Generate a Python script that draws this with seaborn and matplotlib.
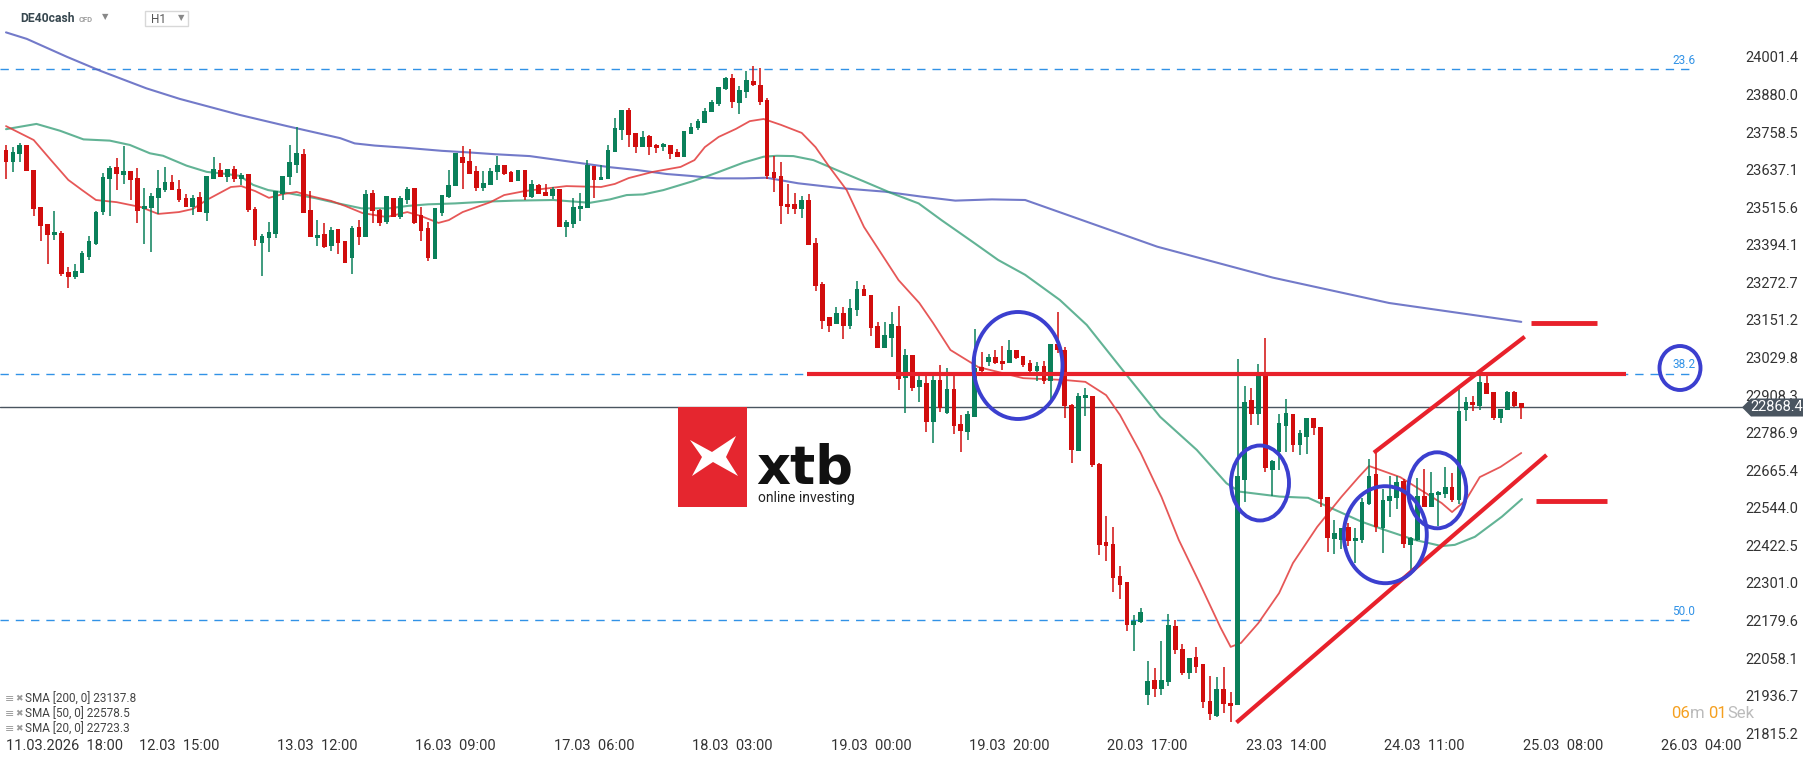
import matplotlib
matplotlib.use("Agg")
import numpy as np
import pandas as pd
import matplotlib.pyplot as plt
from matplotlib import font_manager
from matplotlib.patches import Ellipse, Polygon, Rectangle
from matplotlib.transforms import ScaledTranslation
import seaborn as sns

sns.set_theme(style="white")
plt.rcParams["font.family"] = ["Roboto", "DejaVu Sans"]

installed = {f.name for f in font_manager.fontManager.ttflist}
NARROW = "Liberation Sans Narrow" if "Liberation Sans Narrow" in installed else "Roboto"

# hourly candles, index 0 = 11.03.2026 18:00
first_index = -5
open_px = [
    23701, 23663, 23689, 23717, 23636, 23516, 23461, 23427, 23432, 23306,
    23291, 23304, 23356, 23397, 23500, 23607, 23646, 23621, 23633, 23610,
    23509, 23514, 23546, 23571, 23597, 23575, 23546, 23516, 23549, 23497,
    23607, 23636, 23613, 23639, 23607, 23623, 23510, 23401, 23417, 23430,
    23559, 23615, 23653, 23688, 23507, 23417, 23429, 23391, 23445, 23406,
    23353, 23452, 23420, 23562, 23508, 23469, 23545, 23485, 23539, 23578,
    23492, 23450, 23349, 23498, 23549, 23584, 23678, 23665, 23633, 23578,
    23588, 23630, 23652, 23630, 23601, 23636, 23550, 23587, 23565, 23553,
    23576, 23453, 23462, 23511, 23514, 23649, 23605, 23608, 23694, 23765,
    23830, 23756, 23710, 23746, 23717, 23710, 23717, 23694, 23679, 23753,
    23772, 23788, 23823, 23849, 23898, 23933, 23853, 23888, 23924, 23911,
    23862, 23630, 23617, 23526, 23526, 23510, 23539, 23400, 23267, 23161,
    23138, 23174, 23132, 23183, 23251, 23232, 23132, 23060, 23093, 23132,
    22963, 23038, 22934, 22947, 22821, 22957, 22850, 22928, 22815, 22789,
    22837, 22999, 23015, 23031, 23018, 23012, 23054, 23035, 23012, 22986,
    23002, 22954, 23073, 23054, 22876, 22727, 22899, 22905, 22685, 22433,
    22427, 22323, 22304, 22165, 22174, 21938, 21987, 21958, 21980, 22162,
    22087, 22010, 22061, 22039, 21919, 21871, 21958, 21913, 21906, 22634,
    22892, 22847, 22970, 22666, 22724, 22808, 22847, 22747, 22773, 22834,
    22805, 22579, 22443, 22440, 22482, 22436, 22440, 22556, 22653, 22478,
    22566, 22575, 22630, 22423, 22440, 22582, 22546, 22585, 22588, 22611,
    22569, 22860, 22886, 22873, 22947, 22918, 22834, 22860, 22918, 22883,
]
high_px = [
    23717, 23709, 23723, 23718, 23636, 23516, 23461, 23503, 23439, 23322,
    23332, 23374, 23423, 23503, 23626, 23649, 23675, 23714, 23633, 23643,
    23578, 23562, 23636, 23646, 23620, 23604, 23558, 23555, 23565, 23617,
    23678, 23659, 23640, 23649, 23626, 23623, 23516, 23429, 23468, 23568,
    23617, 23717, 23775, 23704, 23568, 23474, 23465, 23452, 23445, 23406,
    23455, 23474, 23571, 23571, 23511, 23552, 23545, 23552, 23581, 23578,
    23517, 23469, 23514, 23555, 23636, 23691, 23714, 23704, 23649, 23633,
    23642, 23681, 23652, 23633, 23637, 23636, 23604, 23591, 23591, 23582,
    23576, 23475, 23546, 23563, 23668, 23649, 23652, 23717, 23804, 23830,
    23836, 23756, 23762, 23749, 23720, 23723, 23717, 23704, 23762, 23788,
    23801, 23836, 23862, 23905, 23937, 23946, 23908, 23956, 23972, 23966,
    23869, 23681, 23662, 23591, 23562, 23552, 23558, 23416, 23274, 23161,
    23193, 23193, 23219, 23277, 23264, 23232, 23145, 23145, 23177, 23196,
    23057, 23038, 22970, 22970, 22970, 23005, 22996, 22983, 22844, 22857,
    23122, 23048, 23041, 23054, 23067, 23086, 23054, 23035, 23022, 23015,
    23018, 23073, 23177, 23064, 22879, 22915, 22931, 22905, 22689, 22517,
    22482, 22356, 22304, 22197, 22220, 22048, 22026, 22113, 22200, 22181,
    22103, 22058, 22094, 22039, 22000, 21997, 22029, 21948, 23025, 22938,
    22931, 23009, 23093, 22698, 22847, 22896, 22847, 22795, 22834, 22834,
    22805, 22579, 22504, 22478, 22495, 22478, 22575, 22702, 22724, 22605,
    22647, 22647, 22637, 22449, 22640, 22669, 22660, 22598, 22676, 22656,
    22928, 22902, 22905, 22970, 22983, 22918, 22863, 22921, 22921, 22883,
]
low_px = [
    23607, 23631, 23663, 23633, 23488, 23408, 23332, 23411, 23294, 23256,
    23285, 23303, 23346, 23394, 23491, 23488, 23571, 23591, 23539, 23466,
    23397, 23372, 23495, 23565, 23570, 23533, 23515, 23491, 23499, 23471,
    23606, 23613, 23597, 23597, 23588, 23500, 23390, 23294, 23372, 23417,
    23540, 23589, 23626, 23496, 23419, 23391, 23385, 23375, 23366, 23335,
    23301, 23395, 23419, 23466, 23456, 23462, 23484, 23479, 23527, 23462,
    23408, 23343, 23349, 23488, 23545, 23584, 23575, 23623, 23568, 23568,
    23588, 23604, 23621, 23597, 23600, 23539, 23546, 23558, 23552, 23543,
    23452, 23420, 23450, 23472, 23513, 23546, 23604, 23607, 23694, 23733,
    23710, 23691, 23710, 23686, 23692, 23697, 23673, 23678, 23678, 23752,
    23765, 23787, 23823, 23843, 23895, 23836, 23817, 23869, 23908, 23846,
    23608, 23565, 23461, 23494, 23494, 23481, 23393, 23245, 23122, 23112,
    23138, 23090, 23122, 23164, 23229, 23099, 23060, 23060, 23031, 22925,
    22850, 22921, 22886, 22789, 22753, 22853, 22847, 22782, 22724, 22763,
    22837, 22983, 23002, 23009, 22989, 23012, 23025, 23000, 22980, 22954,
    22944, 22892, 23043, 22834, 22689, 22727, 22841, 22676, 22391, 22372,
    22271, 22249, 22145, 22081, 22171, 21906, 21932, 21938, 21968, 22071,
    22003, 21990, 22010, 21896, 21858, 21867, 21880, 21851, 21906, 22563,
    22811, 22811, 22660, 22582, 22666, 22724, 22724, 22714, 22718, 22779,
    22546, 22401, 22394, 22411, 22420, 22365, 22430, 22553, 22466, 22398,
    22514, 22540, 22414, 22343, 22436, 22546, 22546, 22485, 22575, 22563,
    22556, 22824, 22857, 22860, 22912, 22828, 22818, 22860, 22870, 22831,
]
close_px = [
    23663, 23694, 23717, 23634, 23511, 23456, 23427, 23436, 23301, 23291,
    23309, 23368, 23406, 23500, 23613, 23643, 23623, 23633, 23604, 23505,
    23520, 23552, 23578, 23597, 23571, 23539, 23516, 23546, 23500, 23617,
    23639, 23613, 23639, 23607, 23620, 23507, 23410, 23423, 23436, 23568,
    23617, 23662, 23691, 23498, 23420, 23426, 23388, 23442, 23401, 23336,
    23448, 23420, 23559, 23505, 23466, 23552, 23485, 23545, 23575, 23466,
    23440, 23353, 23514, 23555, 23588, 23691, 23659, 23623, 23578, 23594,
    23633, 23652, 23623, 23597, 23636, 23550, 23591, 23559, 23553, 23576,
    23453, 23469, 23517, 23521, 23652, 23605, 23613, 23701, 23772, 23830,
    23749, 23710, 23743, 23710, 23707, 23720, 23689, 23679, 23762, 23775,
    23794, 23827, 23856, 23904, 23933, 23856, 23895, 23927, 23911, 23856,
    23617, 23610, 23520, 23516, 23510, 23539, 23393, 23261, 23148, 23132,
    23174, 23132, 23190, 23251, 23229, 23125, 23060, 23102, 23138, 22960,
    23038, 22931, 22957, 22821, 22957, 22866, 22928, 22808, 22792, 22847,
    22996, 22986, 23031, 23012, 23009, 23054, 23028, 23005, 22986, 23002,
    22954, 23073, 23054, 22873, 22731, 22905, 22908, 22682, 22423, 22420,
    22317, 22294, 22165, 22178, 22207, 21984, 21958, 21987, 22165, 22084,
    22010, 22058, 22029, 21916, 21877, 21958, 21909, 21903, 22647, 22886,
    22847, 22970, 22672, 22695, 22818, 22850, 22747, 22786, 22834, 22802,
    22572, 22446, 22462, 22478, 22436, 22446, 22563, 22647, 22482, 22569,
    22582, 22627, 22427, 22446, 22582, 22546, 22592, 22595, 22611, 22569,
    22857, 22886, 22876, 22951, 22912, 22834, 22863, 22918, 22873, 22866,
]

# moving averages (candle index, price)
sma20_i = [-5, -1, 1.5, 4, 6, 8, 11, 14.5, 17, 20, 22, 24, 27.5, 29, 31, 33, 35, 37, 39, 42,
           44, 46.5, 50, 53, 55, 57.5, 59, 61, 63, 65, 67, 70, 76, 81, 83, 85, 88.5, 92.5, 94.5, 96,
           98, 100.5, 102.5, 104.5, 107, 110, 112, 114, 116.5, 119, 124, 127, 129, 131.5, 135.5, 142,
           148, 151, 154, 156, 159, 162, 164.5, 167.5, 170.5, 172, 173.5, 176, 179, 181, 184.5, 188,
           190.5, 192, 194.5, 196.5, 199.5, 202.5, 204, 206, 208, 211, 214]
sma20_v = [23778, 23733, 23668, 23604, 23571, 23539, 23532, 23516, 23494, 23500, 23510, 23539,
           23581, 23584, 23568, 23546, 23558, 23565, 23552, 23536, 23520, 23497, 23484, 23500,
           23487, 23465, 23474, 23500, 23516, 23532, 23555, 23568, 23584, 23581, 23591, 23610,
           23630, 23646, 23668, 23710, 23743, 23769, 23794, 23801, 23782, 23756, 23710, 23646,
           23571, 23452, 23280, 23206, 23141, 23054, 22999, 22963, 22957, 22951, 22908, 22844,
           22721, 22579, 22440, 22301, 22158, 22094, 22107, 22171, 22268, 22365, 22482, 22579,
           22643, 22679, 22659, 22643, 22601, 22559, 22530, 22569, 22643, 22676, 22721]
sma50_i = [-5, -0.6, 2.8, 6.2, 10, 12.9, 15.8, 17.7, 21.1, 24, 26.9, 28.8, 30.7, 32.9, 35.8,
           39.7, 43, 46.4, 50.3, 53.1, 56, 59.9, 64.7, 68.6, 74.1, 79.4, 82.3, 84.7, 87.1, 90,
           94.3, 97.7, 101.6, 104.5, 106.4, 108.8, 111.7, 116, 118.9, 123, 126.9, 130.2, 135,
           138.4, 142.3, 147.3, 151.2, 156, 161.8, 167.1, 171.4, 173.3, 179.1, 183.2, 187.1,
           190.9, 194.3, 198.6, 202.5, 204.4, 207.3, 211.2, 214.1]
sma50_v = [23768, 23785, 23763, 23735, 23731, 23717, 23690, 23682, 23650, 23630, 23623, 23617,
           23588, 23571, 23561, 23545, 23528, 23512, 23512, 23520, 23525, 23528, 23534, 23537,
           23539, 23530, 23541, 23555, 23557, 23571, 23600, 23627, 23660, 23679, 23682, 23681,
           23668, 23627, 23600, 23561, 23528, 23474, 23399, 23345, 23297, 23216, 23135, 23000,
           22838, 22731, 22623, 22596, 22580, 22576, 22537, 22499, 22472, 22440, 22420, 22424,
           22450, 22515, 22572]
sma200_i = [-5, -2, 3.8, 8.6, 15.3, 20.1, 28.8, 35.6, 43.3, 45.4, 48.3, 52.7, 58, 61.8, 65.7,
            70.7, 76.5, 82.3, 86.2, 90.5, 93.9, 97.7, 101.6, 104.9, 109.5, 115.8, 122, 127.3,
            132.2, 137.5, 142.3, 161.4, 178.1, 194.9, 214]
sma200_v = [24081, 24060, 24002, 23957, 23900, 23866, 23814, 23778, 23739, 23722, 23715, 23708,
            23698, 23693, 23687, 23681, 23663, 23645, 23636, 23623, 23617, 23609, 23609, 23611,
            23593, 23577, 23566, 23550, 23537, 23541, 23539, 23388, 23288, 23206, 23145]

fib_names = ["23.6", "38.2", "50.0"]
fib_levels = [23961, 22976, 22180]
last_price = 22868.4
target_levels = [23141, 22565]

x_tick_pos = list(range(0, 241, 20))
x_tick_labels = ["11.03.2026  18:00", "12.03  15:00", "13.03  12:00", "16.03  09:00",
                 "17.03  06:00", "18.03  03:00", "19.03  00:00", "19.03  20:00",
                 "20.03  17:00", "23.03  14:00", "24.03  11:00", "25.03  08:00",
                 "26.03  04:00"]
y_tick_vals = [24001.4, 23880.0, 23758.5, 23637.1, 23515.6, 23394.1, 23272.7, 23151.2,
               23029.8, 22908.3, 22786.9, 22665.4, 22544.0, 22422.5, 22301.0, 22179.6,
               22058.1, 21936.7, 21815.2]
legend_rows = ["SMA [200, 0] 23137.8", "SMA [50, 0] 22578.5", "SMA [20, 0] 22723.3"]

GREEN = "#0a805a"
RED = "#d10d0d"
W, H = 1815, 761
STEP = 6.919          # px per candle
X0 = 40.6             # px of candle 0
PPP = 3.2334          # price per px
TOP = 24185.7         # price at top edge


def fx(x):
    return x / W


def fy(y):
    return 1 - y / H


def ix(px):
    return (px - X0) / STEP


df = pd.DataFrame({"open": open_px, "high": high_px, "low": low_px, "close": close_px})
df["i"] = np.arange(first_index, first_index + len(df))
df["up"] = df["close"] >= df["open"]
df["color"] = np.where(df["up"], GREEN, RED)
df["bottom"] = df[["open", "close"]].min(axis=1)
df["height"] = (df["close"] - df["open"]).abs().clip(lower=3.5)

fig = plt.figure(figsize=(W / 100, H / 100), dpi=100)
ax = fig.add_axes([0, 26 / H, 1744 / W, 735 / H])
ax.set_facecolor("white")
ax.set_xlim(ix(0), ix(1744))
ax.set_ylim(TOP - PPP * 735, TOP)

# moving averages
sns.lineplot(x=sma200_i, y=sma200_v, ax=ax, color="#5a63c0", lw=1.5, alpha=0.85,
             sort=False, estimator=None, zorder=2)
sns.lineplot(x=sma50_i, y=sma50_v, ax=ax, color="#2e9a72", lw=1.5, alpha=0.75,
             sort=False, estimator=None, zorder=2)
sns.lineplot(x=sma20_i, y=sma20_v, ax=ax, color="#e23a3a", lw=1.3, alpha=0.85,
             sort=False, estimator=None, zorder=2)

# candles
ax.vlines(df["i"], df["low"], df["high"], colors=df["color"], lw=1.1, zorder=3)
ax.bar(df["i"], df["height"], bottom=df["bottom"], width=0.68, color=df["color"],
       linewidth=0, zorder=4)

# fibonacci levels
for name, lvl in zip(fib_names, fib_levels):
    ax.hlines(lvl, ix(0), ix(1693), colors="#3192e6", lw=1.0, linestyles=(0, (6, 5)), zorder=1)
    ax.text(ix(1684), lvl + 9, name, color="#3192e6", fontsize=8.5, ha="center", va="bottom")

# current price line
ax.axhline(last_price, color="#4a5560", lw=1.0, zorder=1)

# drawn annotations
RED_LINE = "#e8212b"
ax.hlines(fib_levels[1], ix(807), ix(1626), colors=RED_LINE, lw=3.0, zorder=5)
ax.hlines(target_levels[0], ix(1531), ix(1597), colors=RED_LINE, lw=3.5, zorder=5)
ax.hlines(target_levels[1], ix(1536), ix(1607), colors=RED_LINE, lw=3.5, zorder=5)
ax.plot([172.84, 217.65], [21849.6, 22714.5], color=RED_LINE, lw=3.0, zorder=5,
        solid_capstyle="butt")
ax.plot([192.7, 214.5], [22722, 23097], color=RED_LINE, lw=3.0, zorder=5,
        solid_capstyle="butt")

circles = [(1018, 365.5, 89, 107), (1260, 483, 58, 75), (1385.3, 534.7, 83, 97),
           (1437.2, 490.3, 58, 76), (1680, 368, 41, 44)]
for cx, cy, w, h in circles:
    ax.add_patch(Ellipse((ix(cx), TOP - PPP * cy), w / STEP, h * PPP, fill=False,
                         edgecolor="#3b3fcf", lw=2.8, zorder=6, clip_on=False))

# axes styling
for s in ax.spines.values():
    s.set_visible(False)
ax.grid(False)
ax.yaxis.tick_right()
ax.set_yticks(y_tick_vals)
ax.set_yticklabels([f"{v:.1f}" for v in y_tick_vals], fontsize=10.5, color="#333333")
ax.tick_params(axis="y", length=0, pad=1)
ax.set_xticks(x_tick_pos)
ax.set_xticklabels(x_tick_labels, fontsize=10.5, color="#333333", family=NARROW)
ax.tick_params(axis="x", length=0, pad=3)
first = ax.get_xticklabels()[0]
first.set_horizontalalignment("left")
first.set_transform(first.get_transform() + ScaledTranslation(-0.35, 0, fig.dpi_scale_trans))
ax.set_xlabel("")
ax.set_ylabel("")

# price tag
tag = [(1742, 407.4), (1751, 398.5), (1803, 398.5), (1803, 416.5), (1751, 416.5)]
fig.add_artist(Polygon([(fx(a), fy(b)) for a, b in tag], closed=True,
                       transform=fig.transFigure, facecolor="#4a5560", edgecolor="none", zorder=10))
fig.text(fx(1777), fy(407.4), f"{last_price:.1f}", color="white", fontsize=10.5,
         ha="center", va="center", zorder=11)

# header
fig.text(fx(20), fy(19), "DE40cash", fontsize=8.7, weight="bold", color="#37474f", va="center")
fig.text(fx(79), fy(19.5), "CFD", fontsize=5.5, weight="bold", color="#9e9e9e", va="center")
fig.text(fx(105), fy(17), "\u25bc", fontsize=6, color="#888888", va="center", ha="center")
fig.add_artist(Rectangle((fx(145.5), fy(25.7)), fx(43), 14.7 / H, transform=fig.transFigure,
                         facecolor="white", edgecolor="#d8d8d8", lw=1))
fig.text(fx(151), fy(19.5), "H1", fontsize=8.5, color="#555555", va="center")
fig.text(fx(181), fy(17.5), "\u25bc", fontsize=6, color="#888888", va="center", ha="center")

# legend
for k, row in enumerate(legend_rows):
    yy = fy(699 + 15 * k)
    fig.text(fx(5), yy, "\u2261", fontsize=8, color="#9a9a9a", va="center")
    fig.text(fx(15), yy, "\u2716", fontsize=6.5, color="#9a9a9a", va="center")
    fig.text(fx(25), yy, row, fontsize=8.5, color="#444444", va="center", family=NARROW)

# countdown
t1 = fig.text(fx(1671), fy(714), "06", fontsize=12, color="#f5a020", va="center", family=NARROW)
t2 = ax.annotate("m ", xy=(1, 0), xycoords=t1, va="bottom", fontsize=12, color="#bbbbbb",
                 family=NARROW, annotation_clip=False)
t3 = ax.annotate("01", xy=(1, 0), xycoords=t2, va="bottom", fontsize=12, color="#f5a020",
                 family=NARROW, annotation_clip=False)
ax.annotate("Sek", xy=(1, 0), xycoords=t3, va="bottom", fontsize=12, color="#bbbbbb",
            family=NARROW, annotation_clip=False)

# xtb logo
fig.add_artist(Rectangle((fx(678), fy(507)), fx(69), 100 / H, transform=fig.transFigure,
                         facecolor="#e5262f", edgecolor="none", zorder=8))
swoosh = [(690, 440), (712, 452), (736, 436), (726, 457), (738, 476), (713, 462), (692, 476),
          (702, 457)]
fig.add_artist(Polygon([(fx(a), fy(b)) for a, b in swoosh], closed=True, transform=fig.transFigure,
                       facecolor="white", edgecolor="none", zorder=9))
fig.text(fx(756), fy(483), "xtb", fontsize=38, weight="bold", color="#111111", va="baseline",
         family="DejaVu Sans")
fig.text(fx(758), fy(498), "online investing", fontsize=10, color="#222222", va="center")

fig.savefig("out.png", dpi=100, facecolor="white")
